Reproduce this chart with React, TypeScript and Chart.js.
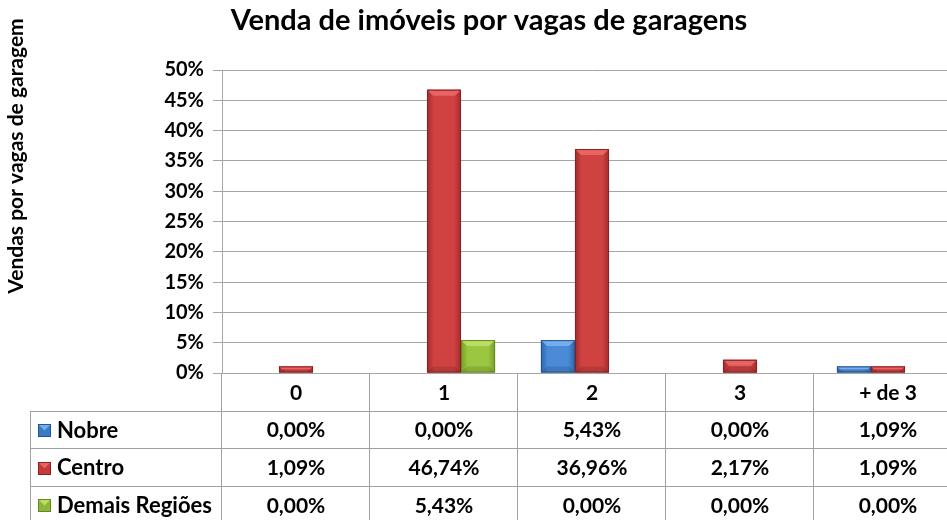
import React, { useEffect, useRef } from "react";
import { Chart, registerables } from "chart.js";

Chart.register(...registerables);

const categories = ["0", "1", "2", "3", "+ de 3"];
const seriesNames = ["Nobre", "Centro", "Demais Regiões"];
const nobre = [0, 0, 5.43, 0, 1.09];
const centro = [1.09, 46.74, 36.96, 2.17, 1.09];
const demais = [0, 5.43, 0, 0, 0];
const yTicksMax = 50;
const yTicksStep = 5;
const title = "Venda de imóveis por vagas de garagens";
const yTitle = "Vendas por vagas de garagem";

const FONT = "Lato, 'Open Sans', sans-serif";

const palettes = [
  { edge: "#2c66ad", mid: "#4a8ad6", top: "#74acec", border: "#24558f", key: "#3a7bc8" },
  { edge: "#a02a2a", mid: "#d04242", top: "#e66464", border: "#882222", key: "#c83a3a" },
  { edge: "#76a027", mid: "#9ac640", top: "#bade64", border: "#66891f", key: "#8cb63c" },
];

function fmt(v: number) {
  return v.toFixed(2).replace(".", ",") + "%";
}

const bevelPlugin = {
  id: "bevel",
  afterDatasetsDraw(chart: any) {
    const ctx = chart.ctx;
    chart.data.datasets.forEach((_ds: any, di: number) => {
      const meta = chart.getDatasetMeta(di);
      const p = palettes[di];
      meta.data.forEach((bar: any) => {
        const { x, y, base, width } = bar.getProps(["x", "y", "base", "width"], true);
        const h = base - y;
        if (h < 0.5) return;
        const x0 = x - width / 2;
        const x1 = x + width / 2;
        ctx.save();
        const g = ctx.createLinearGradient(x0, 0, x1, 0);
        g.addColorStop(0, p.edge);
        g.addColorStop(0.2, p.mid);
        g.addColorStop(0.8, p.mid);
        g.addColorStop(1, p.edge);
        ctx.fillStyle = g;
        ctx.fillRect(x0, y, width, h);
        const bh = Math.min(6, h / 2);
        ctx.fillStyle = p.top;
        ctx.beginPath();
        ctx.moveTo(x0, y);
        ctx.lineTo(x1, y);
        ctx.lineTo(x1 - bh, y + bh);
        ctx.lineTo(x0 + bh, y + bh);
        ctx.closePath();
        ctx.fill();
        ctx.fillStyle = "rgba(0,0,0,0.12)";
        ctx.beginPath();
        ctx.moveTo(x0, base);
        ctx.lineTo(x1, base);
        ctx.lineTo(x1 - bh, base - bh);
        ctx.lineTo(x0 + bh, base - bh);
        ctx.closePath();
        ctx.fill();
        ctx.strokeStyle = p.border;
        ctx.lineWidth = 1;
        ctx.strokeRect(x0 + 0.5, y + 0.5, width - 1, h - 1);
        ctx.restore();
      });
    });
  },
};

const tablePlugin = {
  id: "dataTable",
  afterDraw(chart: any) {
    const ctx = chart.ctx;
    const xs = chart.scales.x;
    const area = chart.chartArea;
    const cw = xs.getPixelForValue(1) - xs.getPixelForValue(0);
    const top = area.bottom;
    const rowH = 37.7;
    const legendLeft = 30;
    const H = chart.height;
    const W = chart.width;
    ctx.save();
    ctx.strokeStyle = "#a0a0a0";
    ctx.lineWidth = 1;
    for (let r = 1; r <= 3; r++) {
      const yy = Math.round(top + r * rowH) + 0.5;
      ctx.beginPath();
      ctx.moveTo(legendLeft, yy);
      ctx.lineTo(W, yy);
      ctx.stroke();
    }
    for (let i = 0; i <= categories.length; i++) {
      const xx = Math.round(xs.getPixelForValue(i) - cw / 2) - 0.5;
      ctx.beginPath();
      ctx.moveTo(xx, top);
      ctx.lineTo(xx, H);
      ctx.stroke();
    }
    ctx.beginPath();
    ctx.moveTo(legendLeft + 0.5, Math.round(top + rowH));
    ctx.lineTo(legendLeft + 0.5, H);
    ctx.stroke();

    ctx.fillStyle = "#000";
    ctx.font = `bold 21px ${FONT}`;
    ctx.textAlign = "center";
    ctx.textBaseline = "middle";
    categories.forEach((c, i) => {
      ctx.fillText(c, xs.getPixelForValue(i), top + rowH / 2 + 1);
    });
    const rows = [nobre, centro, demais];
    rows.forEach((vals, r) => {
      const cy = top + rowH * (r + 1) + rowH / 2 + 1;
      vals.forEach((v, i) => {
        ctx.fillText(fmt(v), xs.getPixelForValue(i), cy);
      });
    });
    ctx.textAlign = "left";
    ctx.font = `bold 22px ${FONT}`;
    seriesNames.forEach((name, r) => {
      const cy = top + rowH * (r + 1) + rowH / 2 + 1;
      const p = palettes[r];
      const kx = 38, ks = 13;
      const ky = Math.round(cy - ks / 2);
      ctx.fillStyle = p.key;
      ctx.fillRect(kx, ky, ks, ks);
      ctx.fillStyle = p.top;
      ctx.beginPath();
      ctx.moveTo(kx, ky);
      ctx.lineTo(kx + ks, ky);
      ctx.lineTo(kx + ks / 2, ky + ks / 2);
      ctx.closePath();
      ctx.fill();
      ctx.strokeStyle = p.border;
      ctx.strokeRect(kx + 0.5, ky + 0.5, ks - 1, ks - 1);
      ctx.fillStyle = "#000";
      ctx.fillText(name, 57, cy);
    });
    ctx.restore();
  },
};

const titlesPlugin = {
  id: "titles",
  afterDraw(chart: any) {
    const ctx = chart.ctx;
    ctx.save();
    ctx.fillStyle = "#000";
    ctx.textAlign = "center";
    ctx.textBaseline = "middle";
    ctx.font = `bold 29px ${FONT}`;
    ctx.fillText(title, 489, 21);
    ctx.translate(16, 156);
    ctx.rotate(-Math.PI / 2);
    ctx.font = `bold 21px ${FONT}`;
    ctx.fillText(yTitle, 0, 0);
    ctx.restore();
  },
};

export default function App() {
  const ref = useRef<HTMLCanvasElement>(null);
  useEffect(() => {
    if (!ref.current) return;
    const chart = new Chart(ref.current, {
      type: "bar",
      data: {
        labels: categories,
        datasets: [nobre, centro, demais].map((d, i) => ({
          label: seriesNames[i],
          data: d,
          backgroundColor: palettes[i].key,
          borderWidth: 0,
          categoryPercentage: 0.69,
          barPercentage: 1,
        })),
      },
      options: {
        responsive: false,
        animation: false,
        layout: { padding: { top: 70, bottom: 147, left: 0, right: 8 } },
        plugins: { legend: { display: false }, tooltip: { enabled: false }, title: { display: false } },
        scales: {
          x: { display: false, offset: true },
          y: {
            min: 0,
            max: yTicksMax,
            ticks: {
              stepSize: yTicksStep,
              callback: (v: any) => v + "%",
              color: "#000",
              font: { family: FONT, weight: "bold", size: 20 },
              padding: 9,
            },
            grid: { color: "#a6a6a6", tickLength: 9, drawTicks: true },
            border: { color: "#a6a6a6" },
            afterFit: (s: any) => {
              s.width = 222;
            },
          },
        },
      },
      plugins: [bevelPlugin, tablePlugin, titlesPlugin],
    });
    (document as any).fonts?.load?.(`bold 20px Lato`).then(() => chart.update()).catch(() => {});
    return () => chart.destroy();
  }, []);
  return (
    <div style={{ position: "fixed", left: 0, top: 0, width: 947, height: 520, overflow: "hidden", background: "#fff" }}>
      <canvas ref={ref} width={970} height={520} style={{ width: 970, height: 520, display: "block" }} />
    </div>
  );
}
